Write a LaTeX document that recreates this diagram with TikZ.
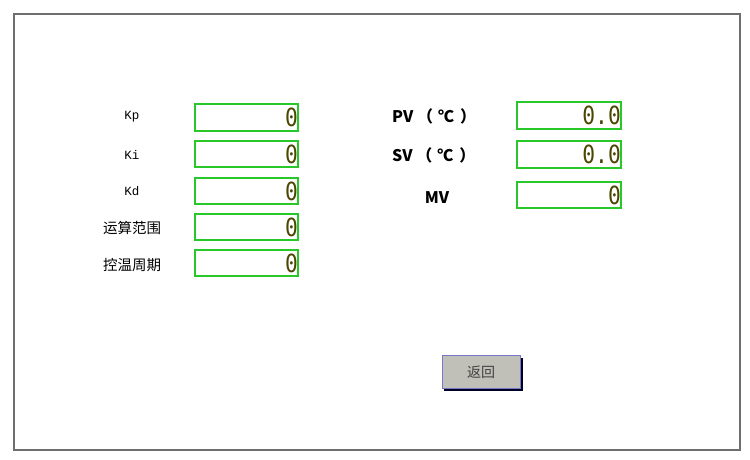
\documentclass[tikz,border=0pt]{standalone}
\usepackage{fontspec}
\setmainfont{Liberation Serif}
\newfontfamily\cjk{Noto Sans CJK SC}
\newfontfamily\mono{Liberation Mono}
\newfontfamily\dmono{DejaVu Sans Mono}
\definecolor{frame}{RGB}{110,110,110}
\definecolor{boxgreen}{RGB}{40,200,40}
\definecolor{valcol}{RGB}{75,70,0}
\definecolor{btnfill}{RGB}{192,192,184}
\definecolor{btnedge}{RGB}{120,120,200}
\begin{document}
\begin{tikzpicture}[x=1pt,y=-1pt,
  field/.style={draw=boxgreen,line width=1.6pt,fill=white},
  val/.style={anchor=east,text=valcol,font=\dmono\fontsize{25}{25}\selectfont,inner sep=0pt,xscale=0.85},
  lab/.style={font=\mono\fontsize{12.5}{12.5}\selectfont},
  clab/.style={font=\cjk\fontsize{14.5}{14.5}\selectfont},
  blab/.style={font=\cjk\bfseries\fontsize{16}{16}\selectfont}]
\useasboundingbox (0,0) rectangle (750,459);
\fill[white] (0,0) rectangle (750,459);
\draw[frame,line width=2.4pt] (14,14) rectangle (740,450);
% left fields
\foreach \n/\y/\h in {kp/104/131,ki/141/167,kd/178/204,yr/214/240,kz/250/276}{
  \draw[field] (195,\y) rectangle (298,\h);
  \node[val] (v\n) at (298,{(\y+\h)/2}) {0};
}
\node[lab] (lkp) at (132,117) {Kp};
\node[lab] (lki) at (132,155) {Ki};
\node[lab] (lkd) at (132,191) {Kd};
\node[clab] (lyr) at (132,228) {运算范围};
\node[clab] (lkz) at (132,265) {控温周期};
% right fields
\foreach \n/\y/\h/\t in {pv/102/129/{0.0},sv/141/168/{0.0},mv/182/208/0}{
  \draw[field] (517,\y) rectangle (621,\h);
  \node[val] (v\n) at (621,{(\y+\h)/2}) {\t};
}
\node[blab,anchor=west,inner sep=0pt] (lpv) at (392,116) {PV （\hspace{5pt}℃\hspace{6pt}）};
\node[blab,anchor=west,inner sep=0pt] (lsv) at (392,155) {SV （\hspace{5pt}℃\hspace{6pt}）};
\node[blab] (lmv) at (437,198) {MV};
% button
\fill[black!85!blue] (444,358) rectangle (523,391);
\draw[btnedge,fill=btnfill,line width=1pt] (442,355) rectangle (520,388);
\node[font=\cjk\fontsize{14}{14}\selectfont,text=black!75] (bret) at (481,372) {返回};
\end{tikzpicture}
\end{document}
